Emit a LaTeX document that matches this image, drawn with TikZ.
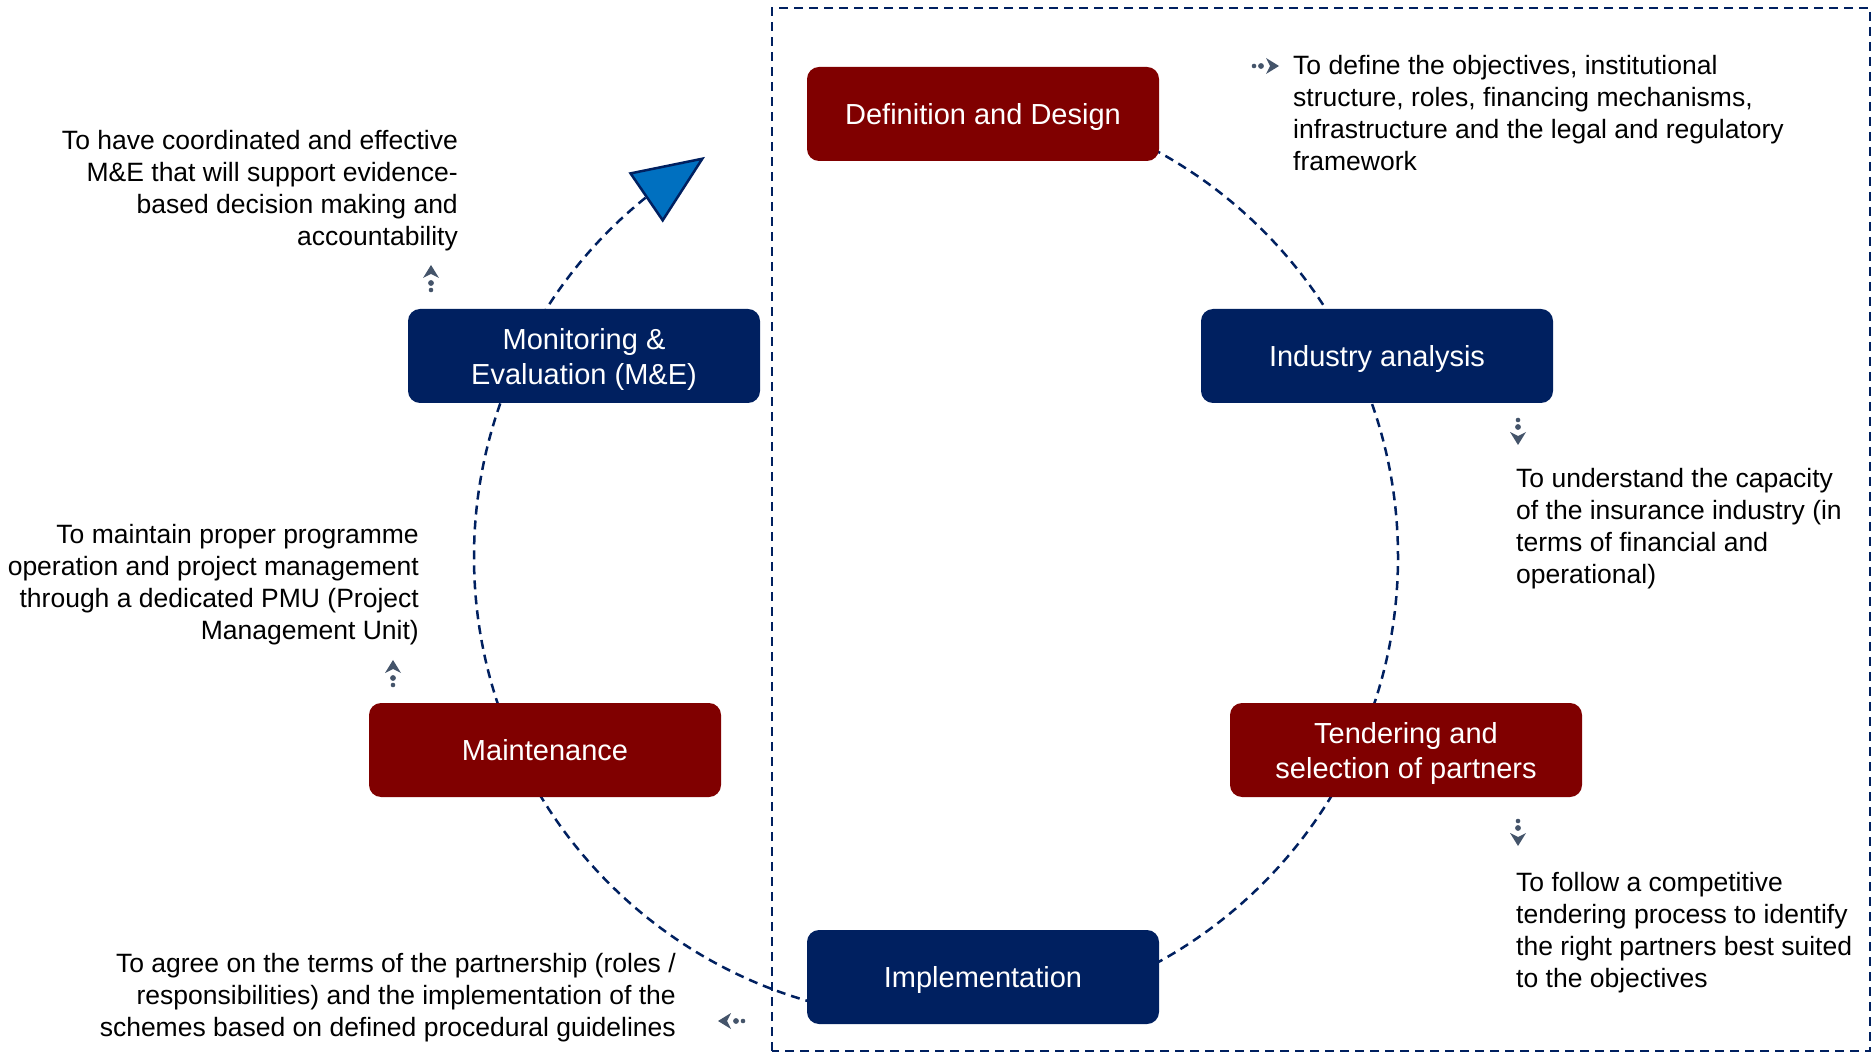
\documentclass[tikz,border=0pt]{standalone}
\usepackage{fontspec}
\setmainfont{Liberation Sans}
\usetikzlibrary{arrows.meta,bending}
\definecolor{stagered}{HTML}{800000}
\definecolor{stageblue}{HTML}{002060}
\definecolor{tipblue}{HTML}{0070C0}
\definecolor{cuegray}{HTML}{44546A}
\tikzset{
  stage/.style={rounded corners=12pt, minimum width=352pt, minimum height=94pt,
    text=white, text depth=0pt, align=center, font=\fontsize{29}{35}\selectfont},
  redstage/.style={stage, fill=stagered},
  bluestage/.style={stage, fill=stageblue},
  note/.style={inner sep=0pt, font=\fontsize{26.5}{32}\selectfont},
  cycleline/.style={stageblue, line width=2.5pt, dash pattern=on 9pt off 6pt},
  cue/.pic={
    \fill (-12,0) circle (2.3);
    \fill (-5,0) circle (2.9);
    \fill (0,8) -- (13,0) -- (0,-8) -- (4,0) -- cycle;
  }
}

\begin{document}
\begin{tikzpicture}[x=1pt, y=1pt]
  \useasboundingbox (0,0) rectangle (1873,1053);
  % ciclo
  \draw[cycleline, -{Triangle[flex, length=72pt, width=60pt, fill=tipblue]}]
    (936,496) ++(90:462) arc[start angle=90, end angle=-240, radius=462];
  % caixa tracejada
  \draw[cycleline] (772,2) rectangle (1870,1045);
  % etapas
  \node[redstage]  (design) at (983,939) {Definition and Design};
  \node[bluestage] (industry) at (1377,697) {Industry analysis};
  \node[redstage]  (tender) at (1406,303) {Tendering and\\selection of partners};
  \node[bluestage] (impl) at (983,76) {Implementation};
  \node[redstage]  (maint) at (545,303) {Maintenance};
  \node[bluestage] (monit) at (584,697) {Monitoring \&\\Evaluation (M\&E)};
  % textos
  \node[note, anchor=west, align=left] (designtxt) at (1293,940)
    {To define the objectives, institutional\\structure, roles, financing mechanisms,\\infrastructure and the legal and regulatory\\framework};
  \node[note, anchor=west, align=left] (industrytxt) at (1516,524)
    {To understand the capacity\\of the insurance industry (in\\terms of financial and\\operational)};
  \node[note, anchor=west, align=left] (tendertxt) at (1516,120)
    {To follow a competitive\\tendering process to identify\\the right partners best suited\\to the objectives};
  \node[note, anchor=east, align=right] (impltxt) at (676,55)
    {To agree on the terms of the partnership (roles /\\responsibilities) and the implementation of the\\schemes based on defined procedural  guidelines};
  \node[note, anchor=east, align=right] (mainttxt) at (419,468)
    {To maintain proper programme\\operation and project management\\through a dedicated PMU (Project\\Management Unit)};
  \node[note, anchor=east, align=right] (monittxt) at (458,862)
    {To have coordinated and effective\\M\&E that will support evidence-\\based decision making and\\accountability};
  % setas pequenas
  \pic[cuegray] at (1266,987) {cue};
  \pic[cuegray, rotate=-90] at (1518,621) {cue};
  \pic[cuegray, rotate=-90] at (1518,220) {cue};
  \pic[cuegray, rotate=180] at (731,32) {cue};
  \pic[cuegray, rotate=90] at (393,380) {cue};
  \pic[cuegray, rotate=90] at (431,775) {cue};
\end{tikzpicture}
\end{document}
